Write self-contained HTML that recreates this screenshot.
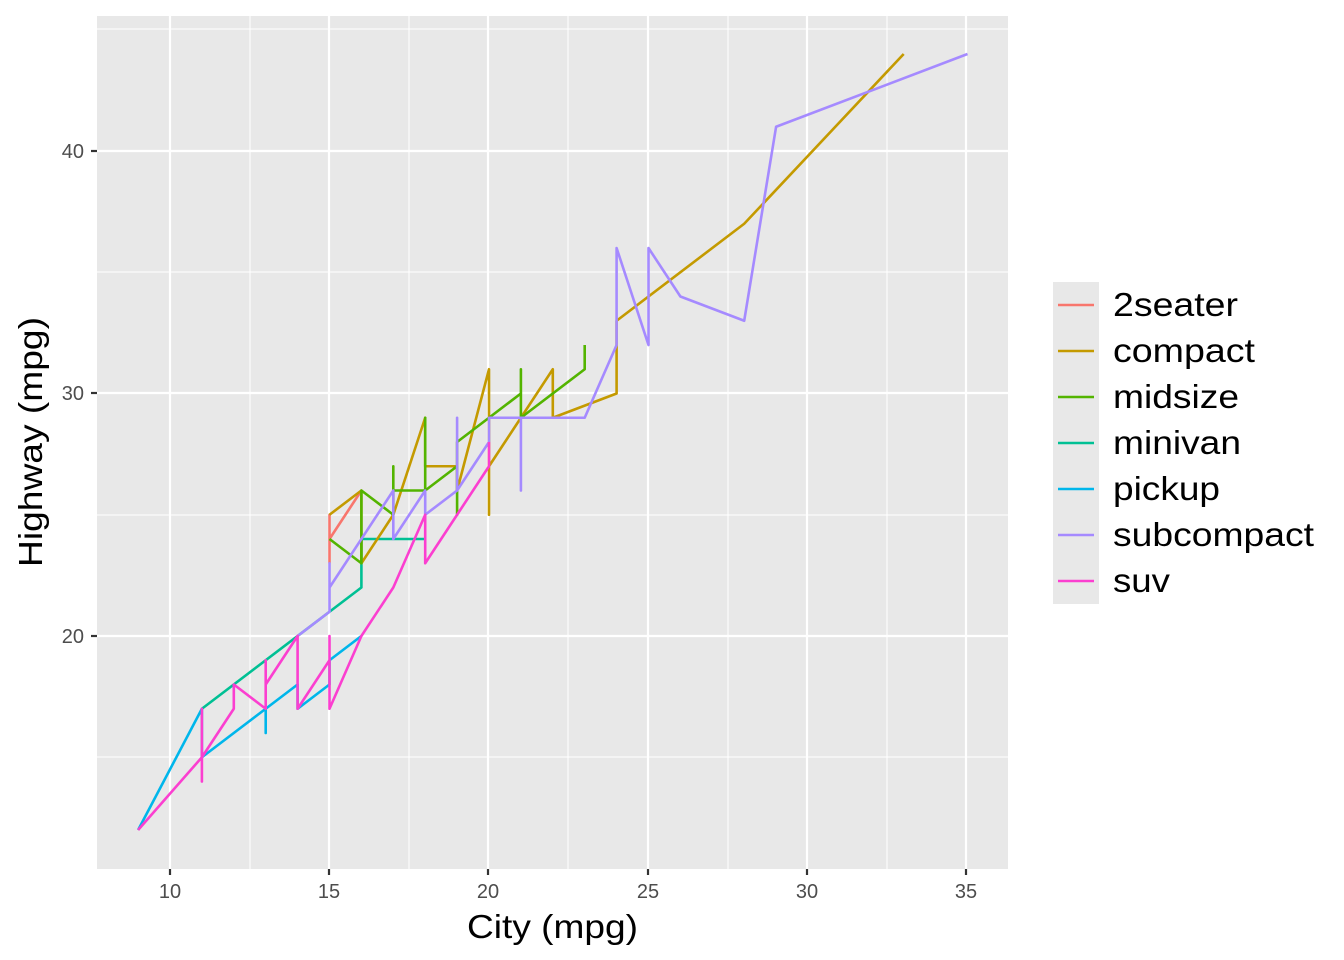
<!DOCTYPE html>
<html><head><meta charset="utf-8"><style>
html,body{margin:0;padding:0;background:#fff;}
svg{display:block;font-family:"Liberation Sans",Arial,sans-serif;}
</style></head><body>
<svg width="1344" height="960" viewBox="0 0 1344 960">
<rect x="97" y="16" width="911" height="853" fill="#E8E8E8"/>
<g stroke="#fff" stroke-width="1.1">
<line x1="97" x2="1008" y1="757" y2="757"/><line x1="97" x2="1008" y1="515" y2="515"/>
<line x1="97" x2="1008" y1="272" y2="272"/><line x1="97" x2="1008" y1="29" y2="29"/>
<line y1="16" y2="869" x1="250" x2="250"/><line y1="16" y2="869" x1="409" x2="409"/>
<line y1="16" y2="869" x1="568" x2="568"/><line y1="16" y2="869" x1="728" x2="728"/>
<line y1="16" y2="869" x1="887" x2="887"/>
</g>
<g stroke="#fff" stroke-width="2.2">
<line x1="97" x2="1008" y1="636" y2="636"/><line x1="97" x2="1008" y1="393" y2="393"/><line x1="97" x2="1008" y1="151" y2="151"/>
<line y1="16" y2="869" x1="170" x2="170"/><line y1="16" y2="869" x1="329" x2="329"/><line y1="16" y2="869" x1="488" x2="488"/>
<line y1="16" y2="869" x1="648" x2="648"/><line y1="16" y2="869" x1="807" x2="807"/><line y1="16" y2="869" x1="966" x2="966"/>
</g>
<g transform="matrix(31.9 0 0 -24.25 -149 1121)" fill="none" stroke-width="2.6" stroke-linejoin="round">
<polyline vector-effect="non-scaling-stroke" stroke="#00C094" points="11,17 15,21 16,22 16,24 17,24 18,24"/>
<polyline vector-effect="non-scaling-stroke" stroke="#00B6EB" points="9,12 11,17 11,15 13,17 13,16 13,17 14,18 14,17 15,18 15,19 16,20"/>
<polyline vector-effect="non-scaling-stroke" stroke="#F8766D" points="15,23 15,25 15,24 16,26 16,26"/>
<polyline vector-effect="non-scaling-stroke" stroke="#C49A00" points="15,25 16,26 16,23 17,25 18,29 18,27 19,27 19,26 20,31 20,25 20,27 21,29 22,31 22,29 24,30 24,33 28,37 33,44"/>
<polyline vector-effect="non-scaling-stroke" stroke="#53B400" points="15,24 16,23 16,26 17,25 17,27 17,26 18,26 18,29 18,26 19,27 19,25 19,28 20,29 21,30 21,31 21,29 23,31 23,32"/>
<polyline vector-effect="non-scaling-stroke" stroke="#A58AFF" points="14,20 15,21 15,23 15,22 17,26 17,24 18,26 18,25 19,26 19,29 19,26 20,28 20,29 21,29 21,26 21,29 23,29 24,32 24,36 25,32 25,36 26,34 28,33 29,41 35,44"/>
<polyline vector-effect="non-scaling-stroke" stroke="#FB3FD0" points="9,12 11,15 11,17 11,14 11,15 12,17 12,18 13,17 13,19 13,18 14,20 14,17 15,19 15,20 15,17 16,20 17,22 18,25 18,23 19,25 20,27 20,28"/>
</g>
<g stroke="#333" stroke-width="2.2">
<line x1="91" x2="97" y1="636" y2="636"/><line x1="91" x2="97" y1="393" y2="393"/><line x1="91" x2="97" y1="151" y2="151"/>
<line y1="869" y2="875" x1="170" x2="170"/><line y1="869" y2="875" x1="329" x2="329"/><line y1="869" y2="875" x1="488" x2="488"/>
<line y1="869" y2="875" x1="648" x2="648"/><line y1="869" y2="875" x1="807" x2="807"/><line y1="869" y2="875" x1="966" x2="966"/>
</g>
<g fill="#4D4D4D" font-size="20">
<text x="84" y="643" text-anchor="end">20</text><text x="84" y="400" text-anchor="end">30</text><text x="84" y="158" text-anchor="end">40</text>
<g text-anchor="middle"><text x="170" y="898">10</text><text x="329" y="898">15</text><text x="488" y="898">20</text><text x="648" y="898">25</text><text x="807" y="898">30</text><text x="966" y="898">35</text></g>
</g>
<text x="467" y="938" font-size="33" textLength="171" lengthAdjust="spacingAndGlyphs">City (mpg)</text>
<text transform="translate(42,567) rotate(-90)" font-size="33" textLength="250" lengthAdjust="spacingAndGlyphs">Highway (mpg)</text>
<rect x="1053" y="282" width="46" height="322" fill="#E8E8E8"/>
<g stroke-width="2.4">
<line x1="1058" x2="1094" y1="305" y2="305" stroke="#F8766D"/>
<line x1="1058" x2="1094" y1="351" y2="351" stroke="#C49A00"/>
<line x1="1058" x2="1094" y1="397" y2="397" stroke="#53B400"/>
<line x1="1058" x2="1094" y1="443" y2="443" stroke="#00C094"/>
<line x1="1058" x2="1094" y1="489" y2="489" stroke="#00B6EB"/>
<line x1="1058" x2="1094" y1="535" y2="535" stroke="#A58AFF"/>
<line x1="1058" x2="1094" y1="581" y2="581" stroke="#FB3FD0"/>
</g>
<g font-size="33" lengthAdjust="spacingAndGlyphs">
<text x="1113" y="316" textLength="125" lengthAdjust="spacingAndGlyphs">2seater</text>
<text x="1113" y="362" textLength="142" lengthAdjust="spacingAndGlyphs">compact</text>
<text x="1113" y="408" textLength="126" lengthAdjust="spacingAndGlyphs">midsize</text>
<text x="1113" y="454" textLength="128" lengthAdjust="spacingAndGlyphs">minivan</text>
<text x="1113" y="500" textLength="107" lengthAdjust="spacingAndGlyphs">pickup</text>
<text x="1113" y="546" textLength="201" lengthAdjust="spacingAndGlyphs">subcompact</text>
<text x="1113" y="592" textLength="57" lengthAdjust="spacingAndGlyphs">suv</text>
</g>
</svg>
</body></html>
